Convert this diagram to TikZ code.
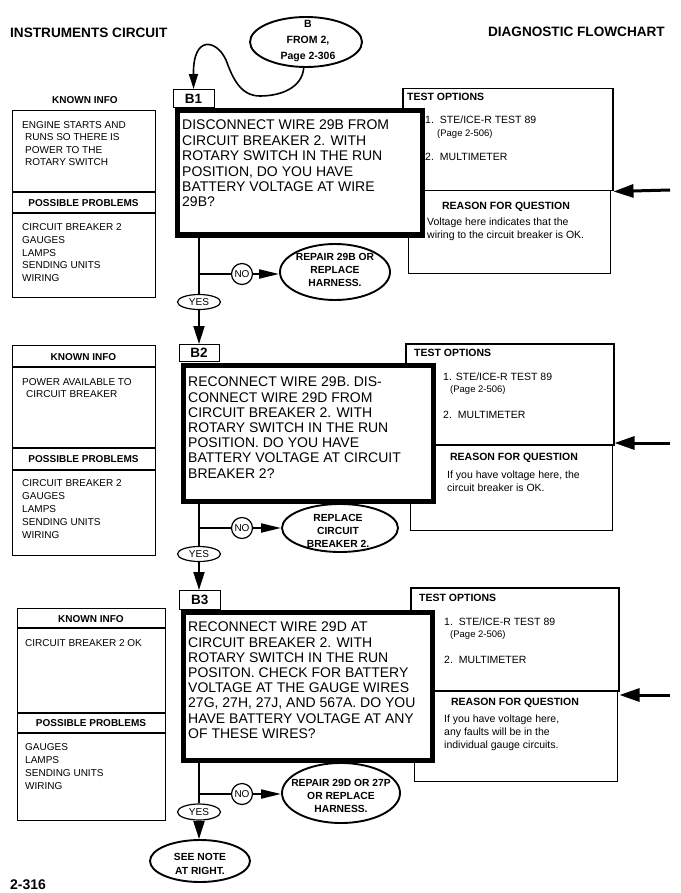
\documentclass[tikz,border=0pt]{standalone}
\usepackage{fontspec}
\setmainfont{Liberation Sans}
\usetikzlibrary{arrows.meta,shapes.geometric}
\newcommand{\fsz}[2]{\fontsize{#1}{#2}\selectfont}
\begin{document}
\begin{tikzpicture}[x=1pt,y=-1pt,
  title/.style={font=\bfseries\fsz{13.6}{16}, inner sep=0},
  thinbox/.style={draw, line width=1.1pt, inner sep=0, anchor=north west},
  testbox/.style={draw, line width=1.5pt, inner sep=0, anchor=north west},
  reasonbox/.style={draw, line width=1pt, inner sep=0, anchor=north west},
  mainbox/.style={draw, fill=white, line width=5pt, inner sep=0, anchor=north west},
  tabbox/.style={draw, fill=white, line width=1.2pt, inner sep=0, anchor=north west, font=\bfseries\fsz{13.5}{15}},
  hdr/.style={font=\bfseries\fsz{10}{12}, inner sep=0},
  info/.style={font=\fsz{10}{12.5}, align=left, anchor=north west, inner sep=0},
  maintext/.style={font=\fsz{14}{15.2}, align=left, anchor=north west, inner sep=0},
  opt/.style={font=\fsz{10.5}{12}, anchor=west, inner sep=0},
  rtext/.style={font=\fsz{10.5}{13}, align=left, anchor=north west, inner sep=0},
  ellthick/.style={draw, ellipse, fill=white, line width=1.9pt, inner sep=0},
  elltext/.style={font=\bfseries\fsz{10.3}{13}, align=center, inner sep=0},
  yesell/.style={draw, ellipse, fill=white, line width=1.2pt, inner sep=0, minimum width=43pt, minimum height=15pt, font=\fsz{10}{12}},
  nocirc/.style={draw, circle, fill=white, line width=1.2pt, inner sep=0, minimum size=21pt, font=\fsz{10}{12}},
  conn/.style={line width=2pt},
  downarrow/.style={-{Triangle[length=18pt,width=11pt]}},
  sidearrow/.style={-{Triangle[length=20pt,width=9pt]}},
  bigarrow/.style={line width=3pt, -{Triangle[length=20pt,width=13pt]}}
]
\fill[white] (0,0) rectangle (680,893);
\useasboundingbox (0,0) rectangle (680,893);

% titles
\node[title, anchor=west] (ttl) at (10,33) {INSTRUMENTS CIRCUIT};
\node[title, anchor=east] (ttr) at (665,32) {DIAGNOSTIC FLOWCHART};
\node[title, anchor=west, font=\bfseries\fsz{14}{16}] (pg) at (10,885) {2-316};

% entry ellipse
\node[ellthick, minimum width=112pt, minimum height=50pt] (from) at (306,42) {};
\node[elltext, font=\bfseries\fsz{10.5}{16}] (fromt) at (308,41) {B\\FROM 2,\\Page 2-306};

%% ---------------- SECTION 1 ----------------
\node[hdr] (ki1) at (85,100) {KNOWN INFO};
\node[thinbox, minimum width=143pt, minimum height=187pt] (kb1) at (12,110) {};
\draw[line width=1.1pt] (kb1.west |- 0,192) -- (kb1.east |- 0,192);
\draw[line width=1.1pt] (kb1.west |- 0,213) -- (kb1.east |- 0,213);
\node[hdr] (pp1) at (83.5,203) {POSSIBLE PROBLEMS};
\node[info, font=\fsz{10}{12.4}] (kt1) at (22,121.4) {ENGINE STARTS AND\\\hspace*{3pt}RUNS SO THERE IS\\\hspace*{3pt}POWER TO THE\\\hspace*{3pt}ROTARY SWITCH};
\node[info, font=\fsz{10}{12.75}] (pt1) at (22,223.4) {CIRCUIT BREAKER 2\\GAUGES\\LAMPS\\SENDING UNITS\\WIRING};

\node[testbox, minimum width=210pt, minimum height=102pt] (tb1) at (402,88) {};
\node[reasonbox, minimum width=202pt, minimum height=83pt] (rb1) at (408,190) {};
\node[opt, font=\bfseries\fsz{10.5}{12}] (to1) at (407,97) {TEST OPTIONS};
\node[opt] (o11) at (425,120) {1.\hspace{6pt}STE/ICE-R TEST 89};
\node[opt, font=\fsz{9.5}{11}] (o12) at (437,134) {(Page 2-506)};
\node[opt] (o13) at (425,157) {2.\hspace{6pt}MULTIMETER};
\node[hdr, font=\bfseries\fsz{10.5}{12}] (rq1) at (506,207) {REASON FOR QUESTION};
\node[rtext] (rt1) at (427,218) {Voltage here indicates that the\\wiring to the circuit breaker is OK.};
\coordinate (in1) at (670,190);
\draw[bigarrow] (in1) -- (tb1.south east);

\node[tabbox, minimum width=41pt, minimum height=18pt] (b1tab) at (172.5,89) {B1};
\node[mainbox, minimum width=245pt, minimum height=124pt] (b1) at (174.5,108.5) {};
\node[maintext, font=\fsz{14}{15.4}] (b1t) at (182,120) {DISCONNECT WIRE 29B FROM\\CIRCUIT BREAKER 2. WITH\\ROTARY SWITCH IN THE RUN\\POSITION, DO YOU HAVE\\BATTERY VOLTAGE AT WIRE\\29B?};

\coordinate (cv1) at (260,96);
\coordinate (cv2) at (226,60);
\draw[line width=1.6pt, -{Triangle[length=15pt,width=9pt]}] (from.265) to[out=-95,in=0] (cv1) to[out=180,in=-70] (cv2) .. controls (217,40) and (193,34) .. (b1tab.north);

\node[yesell] (yes1) at (199,302) {YES};
\node[nocirc] (no1) at (242,274) {NO};
\node[ellthick, minimum width=110pt, minimum height=56pt] (rep1) at (335,272) {};
\node[elltext] (rep1t) at (335,270) {REPAIR 29B OR\\REPLACE\\HARNESS.};
\coordinate (j1) at (yes1.north |- no1.west);
\draw[conn] (yes1.north |- b1.south) -- (yes1.north);
\draw[conn] (j1) -- (no1.west);
\draw[conn, sidearrow] (no1.east) -- (no1.east -| rep1.west);

%% ---------------- SECTION 2 ----------------
\node[thinbox, minimum width=143pt, minimum height=210pt] (kb2) at (12,345) {};
\draw[line width=1.1pt] (kb2.west |- 0,367) -- (kb2.east |- 0,367);
\draw[line width=1.1pt] (kb2.west |- 0,448) -- (kb2.east |- 0,448);
\draw[line width=1.1pt] (kb2.west |- 0,470) -- (kb2.east |- 0,470);
\node[hdr] (ki2) at (83.5,357) {KNOWN INFO};
\node[hdr] (pp2) at (83.5,459) {POSSIBLE PROBLEMS};
\node[info, font=\fsz{10}{12}] (kt2) at (22,378.4) {POWER AVAILABLE TO\\\hspace*{4pt}CIRCUIT BREAKER};
\node[info, font=\fsz{10}{13}] (pt2) at (22,479.4) {CIRCUIT BREAKER 2\\GAUGES\\LAMPS\\SENDING UNITS\\WIRING};

\node[testbox, minimum width=208pt, minimum height=101pt] (tb2) at (405,343) {};
\node[reasonbox, minimum width=202pt, minimum height=86pt] (rb2) at (410,444) {};
\node[opt, font=\bfseries\fsz{10.5}{12}] (to2) at (414,353) {TEST OPTIONS};
\node[opt] (o21) at (443,377) {1. STE/ICE-R TEST 89};
\node[opt, font=\fsz{9.5}{11}] (o22) at (450,390) {(Page 2-506)};
\node[opt] (o23) at (443,415) {2.\hspace{6pt}MULTIMETER};
\node[hdr, font=\bfseries\fsz{10.5}{12}] (rq2) at (514,458) {REASON FOR QUESTION};
\node[rtext] (rt2) at (447,471) {If you have voltage here, the\\circuit breaker is OK.};
\coordinate (in2) at (670,443);
\draw[bigarrow] (in2) -- (in2 -| tb2.east);

\node[tabbox, minimum width=40pt, minimum height=17pt] (b2tab) at (178.5,344) {B2};
\node[mainbox, minimum width=250pt, minimum height=136pt] (b2) at (180.5,362.5) {};
\node[maintext] (b2t) at (188,377) {RECONNECT WIRE 29B. DIS-\\CONNECT WIRE 29D FROM\\CIRCUIT BREAKER 2. WITH\\ROTARY SWITCH IN THE RUN\\POSITION. DO YOU HAVE\\BATTERY VOLTAGE AT CIRCUIT\\BREAKER 2?};
\draw[conn, downarrow] (yes1.south) -- (yes1.south |- b2tab.north);

\node[yesell] (yes2) at (199,554) {YES};
\node[nocirc] (no2) at (242,528) {NO};
\node[ellthick, minimum width=116pt, minimum height=48pt] (rep2) at (340,528) {};
\node[elltext] (rep2t) at (338,531) {REPLACE\\CIRCUIT\\BREAKER 2.};
\coordinate (j2) at (yes2.north |- no2.west);
\draw[conn] (yes2.north |- b2.south) -- (yes2.north);
\draw[conn] (j2) -- (no2.west);
\draw[conn, sidearrow] (no2.east) -- (no2.east -| rep2.west);

%% ---------------- SECTION 3 ----------------
\node[thinbox, minimum width=148pt, minimum height=212pt] (kb3) at (17,608) {};
\draw[line width=1.1pt] (kb3.west |- 0,628) -- (kb3.east |- 0,628);
\draw[line width=1.1pt] (kb3.west |- 0,713) -- (kb3.east |- 0,713);
\draw[line width=1.1pt] (kb3.west |- 0,733) -- (kb3.east |- 0,733);
\node[hdr] (ki3) at (91,619) {KNOWN INFO};
\node[hdr] (pp3) at (91,723) {POSSIBLE PROBLEMS};
\node[info] (kt3) at (25,639.4) {CIRCUIT BREAKER 2 OK};
\node[info, font=\fsz{10}{13}] (pt3) at (25,743.4) {GAUGES\\LAMPS\\SENDING UNITS\\WIRING};

\node[testbox, minimum width=208pt, minimum height=103pt] (tb3) at (410,587) {};
\node[reasonbox, minimum width=203pt, minimum height=91pt] (rb3) at (414,690) {};
\node[opt, font=\bfseries\fsz{10.5}{12}] (to3) at (419,598) {TEST OPTIONS};
\node[opt] (o31) at (444,622) {1.\hspace{6pt}STE/ICE-R TEST 89};
\node[opt, font=\fsz{9.5}{11}] (o32) at (450,635) {(Page 2-506)};
\node[opt] (o33) at (444,660) {2.\hspace{6pt}MULTIMETER};
\node[hdr, font=\bfseries\fsz{10.5}{12}] (rq3) at (515,703) {REASON FOR QUESTION};
\node[rtext, font=\fsz{10.5}{12.7}] (rt3) at (444,715) {If you have voltage here,\\any faults will be in the\\individual gauge circuits.};
\coordinate (in3) at (670,695);
\draw[bigarrow] (in3) -- (in3 -| tb3.east);

\node[tabbox, minimum width=41.5pt, minimum height=19pt] (b3tab) at (178.5,590) {B3};
\node[mainbox, minimum width=249pt, minimum height=148pt] (b3) at (180.5,609.5) {};
\node[maintext] (b3t) at (188,622) {RECONNECT WIRE 29D AT\\CIRCUIT BREAKER 2. WITH\\ROTARY SWITCH IN THE RUN\\POSITON. CHECK FOR BATTERY\\VOLTAGE AT THE GAUGE WIRES\\27G, 27H, 27J, AND 567A. DO YOU\\HAVE BATTERY VOLTAGE AT ANY\\OF THESE WIRES?};
\draw[conn, downarrow] (yes2.south) -- (yes2.south |- b3tab.north);

\node[yesell, minimum height=16pt] (yes3) at (199,812) {YES};
\node[nocirc] (no3) at (242,794) {NO};
\node[ellthick, minimum width=118pt, minimum height=60pt] (rep3) at (341,793) {};
\node[elltext] (rep3t) at (341,796) {REPAIR 29D OR 27P\\OR REPLACE\\HARNESS.};
\node[ellthick, minimum width=100pt, minimum height=42pt] (note) at (200,861) {};
\node[elltext, font=\bfseries\fsz{10.3}{14}] (notet) at (200,864) {SEE NOTE\\AT RIGHT.};
\coordinate (j3) at (yes3.north |- no3.west);
\draw[conn] (yes3.north |- b3.south) -- (yes3.north);
\draw[conn] (j3) -- (no3.west);
\draw[conn, sidearrow] (no3.east) -- (no3.east -| rep3.west);
\draw[conn, downarrow] (yes3.south) -- (yes3.south |- note.north);
\end{tikzpicture}
\end{document}
